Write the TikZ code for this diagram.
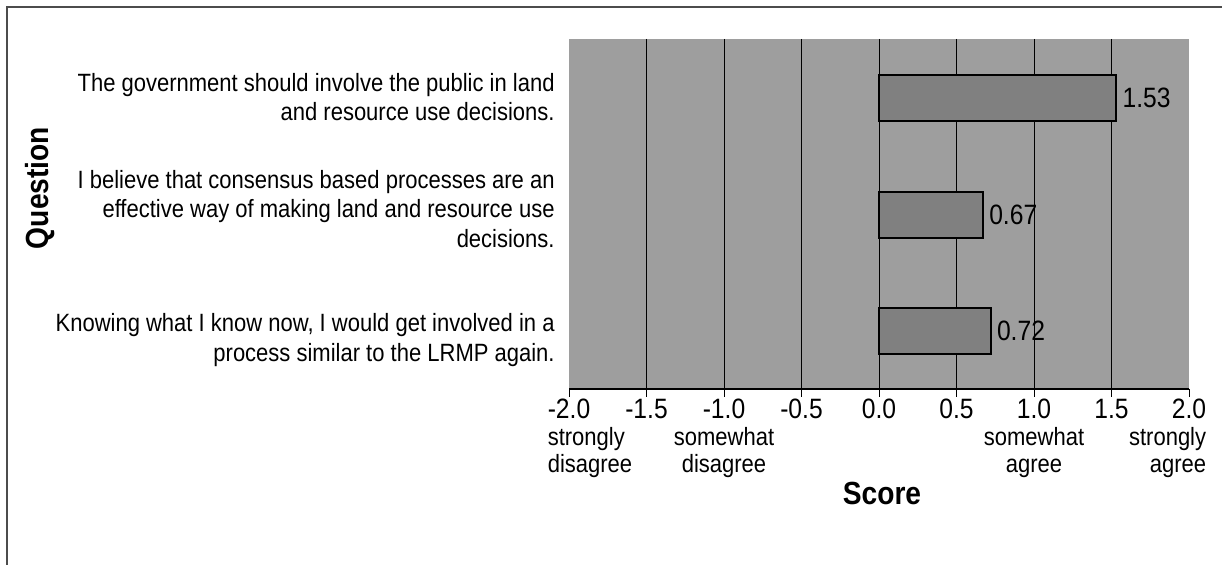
\documentclass[tikz,border=0pt]{standalone}
\usepackage{fontspec}
\setmainfont[FakeStretch=0.88]{Liberation Sans}
\usepackage{xcolor}
\usepackage{tikz}
\usetikzlibrary{positioning}

\definecolor{plotgray}{gray}{0.62}
\definecolor{bargray}{gray}{0.5}

\begin{document}
\begin{tikzpicture}[x=0.5pt,y=-0.5pt,
  qlabel/.style={anchor=east,align=right,inner sep=0pt,
    font=\fontsize{12.5}{14.6}\selectfont},
  ticklab/.style={inner sep=0pt,font=\fontsize{14}{15}\selectfont},
  scalelab/.style={inner sep=0pt,font=\fontsize{12.5}{13.2}\selectfont},
  axtitle/.style={inner sep=0pt,font=\fontsize{16}{17}\selectfont\bfseries},
  vallab/.style={inner sep=0pt,font=\fontsize{14}{15}\selectfont},
  bar/.style={draw=black,line width=1pt,fill=bargray},
  gridln/.style={black,line width=0.5pt}]
  \useasboundingbox (0,0) rectangle (1222,565);
  \draw[black!70,line width=0.8pt] (7,565) -- (7,7) -- (1222,7);
  % plot area
  \fill[plotgray] (569,39) rectangle (1189,389);
  \foreach \k in {1,...,7}
    \draw[gridln] ({569+77.5*\k},39) -- ({569+77.5*\k},389);
  \draw[black,line width=1pt] (569,389) -- (1189,389);
  \foreach \lab [count=\k from 0] in {-2.0,-1.5,-1.0,-0.5,0.0,0.5,1.0,1.5,2.0}{
    \draw[gridln] ({569+77.5*\k},389) -- ++(0,8);
    \node[ticklab] (t\k) at ({569+77.5*\k},409) {\lab};}
  % bars and values
  \foreach \v/\yc [count=\i] in {1.53/98,0.67/215,0.72/331}{
    \draw[bar] (879,\yc-23) rectangle ({879+155*\v},\yc+23);
    \coordinate (b\i) at ({879+155*\v},\yc);
    \node[vallab,right=3pt of b\i] (v\i) {\v};}
  % questions
  \node[qlabel] (q1) at (555,97)
    {The government should involve the public in land\\and resource use decisions.};
  \node[qlabel] (q2) at (555,209)
    {I believe that consensus based processes are an\\effective way of making land and resource use\\decisions.};
  \node[qlabel] (q3) at (555,340)
    {Knowing what I know now, I would get involved in a\\process similar to the LRMP again.};
  \node[axtitle,rotate=90] (qt) at (40,188) {Question};
  % scale words
  \node[scalelab,anchor=north west,align=left] (sd) at ([yshift=-4pt]t0.south west)
    {strongly\\disagree};
  \node[scalelab,anchor=north,align=center] (wd) at ([yshift=-4pt]t2.south)
    {somewhat\\disagree};
  \node[scalelab,anchor=north,align=center] (wa) at ([yshift=-4pt]t6.south)
    {somewhat\\agree};
  \node[scalelab,anchor=north east,align=right] (sa) at ([yshift=-4pt]t8.south east)
    {strongly\\agree};
  \node[axtitle] (score) at (882,493) {Score};
\end{tikzpicture}
\end{document}
